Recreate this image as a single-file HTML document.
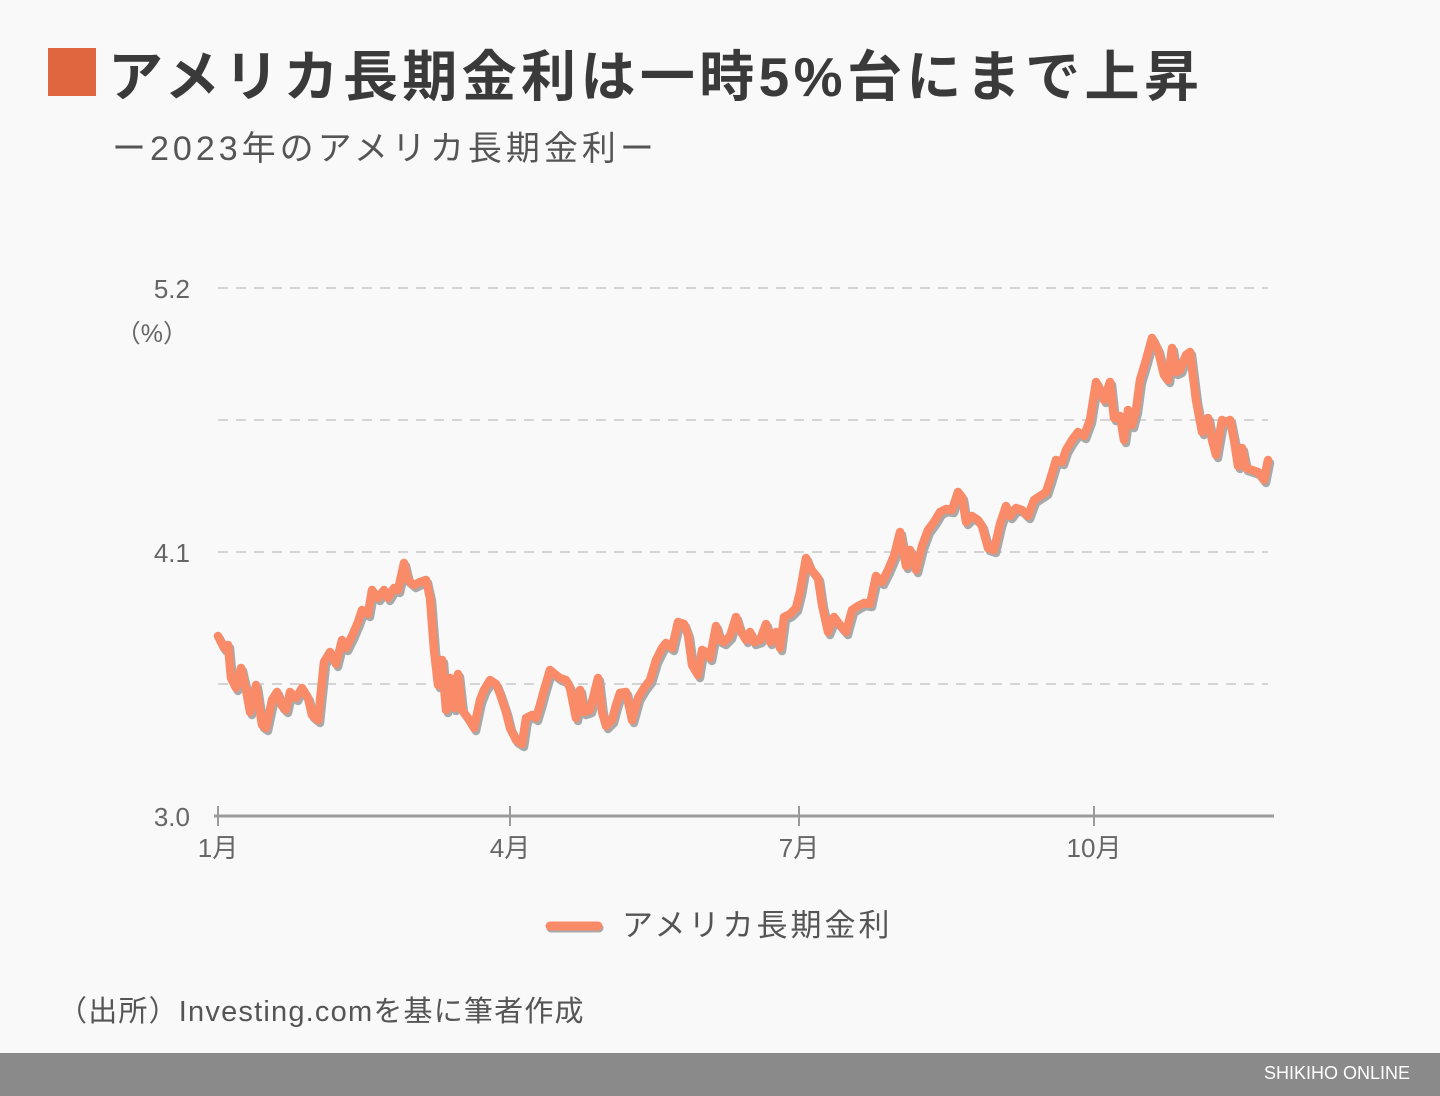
<!DOCTYPE html>
<html><head><meta charset="utf-8"><style>
body{margin:0;width:1440px;height:1096px;background:#f9f9f9;position:relative;overflow:hidden;font-family:"Liberation Sans","Noto Sans CJK JP",sans-serif;}
.t{position:absolute;white-space:nowrap;}
</style></head><body>
<div style="position:absolute;left:48px;top:48px;width:48px;height:48px;background:#e0663f"></div>
<div class="t" style="left:108px;top:32px;font-size:55px;font-weight:bold;color:#3a3a3a;letter-spacing:4.4px">アメリカ長期金利は一時5%台にまで上昇</div>
<div class="t" style="left:112px;top:121px;font-size:34px;color:#555;letter-spacing:4px">ー2023年のアメリカ長期金利ー</div>
<svg style="position:absolute;left:0;top:0" width="1440" height="1096">
<g stroke="#d4d4d4" stroke-width="2" stroke-dasharray="10,8">
<line x1="218" y1="288" x2="1268" y2="288"/><line x1="218" y1="420" x2="1268" y2="420"/>
<line x1="218" y1="552" x2="1268" y2="552"/><line x1="218" y1="684" x2="1268" y2="684"/>
</g>
<line x1="214" y1="816" x2="1274" y2="816" stroke="#9a9a9a" stroke-width="3"/>
<g stroke="#9a9a9a" stroke-width="2"><line x1="218" y1="806" x2="218" y2="826"/><line x1="510" y1="806" x2="510" y2="826"/><line x1="799" y1="806" x2="799" y2="826"/><line x1="1094" y1="806" x2="1094" y2="826"/></g>
<g font-size="26" fill="#666" font-family="Liberation Sans, Noto Sans CJK JP, sans-serif">
<text x="190" y="298" text-anchor="end">5.2</text><text x="190" y="562" text-anchor="end">4.1</text><text x="190" y="826" text-anchor="end">3.0</text>
<text x="188" y="342" text-anchor="end" font-size="25">（%）</text>
<text x="218" y="857" text-anchor="middle">1月</text><text x="510" y="857" text-anchor="middle">4月</text><text x="799" y="857" text-anchor="middle">7月</text><text x="1094" y="857" text-anchor="middle">10月</text>
</g>
<defs><polyline id="p" fill="none" stroke-linejoin="round" stroke-linecap="round" points="218,636 224,648 228,645 231,678 236,688 241,668 246,690 250,712 256,685 262,725 266,728 272,700 277,692 282,706 286,710 290,692 296,698 302,688 308,698 312,715 318,720 324,662 330,652 336,664 342,640 346,648 352,636 358,622 362,610 368,614 372,590 378,598 384,590 388,598 394,588 398,590 404,563 408,580 414,585 420,582 426,580 430,598 434,650 438,685 442,660 446,710 450,678 454,708 458,674 462,710 468,718 474,728 480,700 484,690 490,680 496,684 500,694 506,712 510,728 516,740 522,744 526,718 532,715 536,718 540,705 544,690 550,670 556,675 560,678 566,680 570,688 576,718 580,690 584,712 590,710 598,678 602,712 606,726 612,720 616,705 620,693 626,692 632,720 638,698 644,688 650,680 656,660 662,648 666,643 672,648 678,622 684,624 688,635 692,665 698,675 702,650 706,652 710,658 716,626 720,640 724,642 730,636 736,617 740,630 746,640 750,632 754,642 760,640 766,624 770,642 776,632 780,648 784,617 790,614 796,608 800,592 806,558 810,568 818,578 822,605 828,632 834,617 840,625 846,632 852,610 858,606 864,603 870,604 876,576 882,582 888,570 894,556 900,532 906,566 910,550 916,570 922,546 928,530 934,522 940,512 946,509 952,510 958,492 962,497 966,522 972,516 978,520 982,526 988,548 994,550 1000,524 1006,506 1010,516 1016,508 1022,510 1028,516 1034,500 1040,496 1046,492 1050,480 1056,460 1062,462 1066,450 1072,440 1078,432 1084,436 1090,420 1096,382 1100,390 1104,400 1110,382 1114,418 1120,416 1124,440 1128,410 1132,425 1136,410 1140,380 1146,360 1152,338 1158,350 1164,375 1168,380 1172,348 1176,372 1180,370 1186,355 1190,352 1196,400 1202,432 1208,418 1212,440 1216,455 1222,420 1226,422 1230,420 1234,440 1238,466 1242,448 1246,468 1252,470 1258,472 1264,480 1268,460"/></defs>
<use href="#p" stroke="#a9a9a9" stroke-width="8.5" transform="translate(2,3)"/>
<use href="#p" stroke="#f98b69" stroke-width="8.5"/>
<line x1="550" y1="926" x2="598" y2="926" stroke="#a9a9a9" stroke-width="9" stroke-linecap="round" transform="translate(1,2)"/>
<line x1="550" y1="926" x2="598" y2="926" stroke="#f98b69" stroke-width="9" stroke-linecap="round"/>
<text x="622" y="936" font-size="31" fill="#555" letter-spacing="3" font-family="Liberation Sans, Noto Sans CJK JP, sans-serif">アメリカ長期金利</text>
</svg>
<div class="t" style="left:58px;top:988px;font-size:29px;color:#555;letter-spacing:1.2px">（出所）Investing.comを基に筆者作成</div>
<div style="position:absolute;left:0;top:1053px;width:1440px;height:43px;background:#8a8a8a"></div>
<div class="t" style="right:30px;top:1063px;font-size:18px;color:#fff">SHIKIHO ONLINE</div>
</body></html>
